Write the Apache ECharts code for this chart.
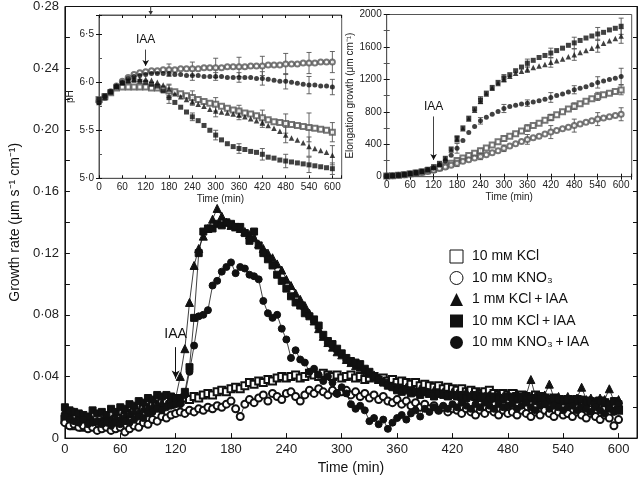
<!DOCTYPE html>
<html><head><meta charset="utf-8">
<script src="https://cdn.jsdelivr.net/npm/echarts@6/dist/echarts.min.js"></script>
<style>html,body{margin:0;padding:0;background:#fff}#c{width:640px;height:480px}</style>
</head><body><div id="c"></div>
<script>
const FONT = "'Liberation Sans', Arial, Helvetica, sans-serif";
const names = ['10 mᴍ KCl', '10 mᴍ KNO₃', '1 mᴍ KCl\u2009+\u2009IAA', '10 mᴍ KCl\u2009+\u2009IAA', '10 mᴍ KNO₃\u2009+\u2009IAA'];

// ---- main chart: growth rate, one value every 5 min from 0 to 600 ----
const mainStep = 5;
const rateKCl = [0.012,0.009,0.008,0.010,0.007,0.008,0.009,0.008,0.010,0.011,0.009,0.012,0.013,
 0.014,0.016,0.018,0.017,0.020,0.019,0.022,0.021,0.023,0.024,0.022,0.025,
 0.024,0.026,0.025,0.027,0.026,0.028,0.029,0.028,0.030,0.031,0.030,0.032,
 0.033,0.032,0.034,0.036,0.035,0.037,0.036,0.038,0.037,0.039,0.040,0.039,
 0.040,0.041,0.039,0.040,0.042,0.041,0.040,0.042,0.041,0.040,0.041,0.039,
 0.040,0.041,0.039,0.040,0.038,0.039,0.040,0.038,0.039,0.037,0.038,0.036,
 0.037,0.036,0.035,0.036,0.034,0.035,0.034,0.033,0.034,0.032,0.033,0.032,
 0.031,0.032,0.030,0.031,0.030,0.029,0.030,0.031,0.029,0.028,0.029,0.028,
 0.029,0.027,0.028,0.027,0.026,0.028,0.027,0.026,0.025,0.026,0.025,0.024,
 0.025,0.024,0.025,0.023,0.024,0.023,0.022,0.024,0.023,0.021,0.022,0.018];
const rateKNO3 = [0.010,0.008,0.009,0.007,0.008,0.006,0.007,0.005,0.006,0.007,0.005,0.006,0.007,
 0.004,0.006,0.008,0.007,0.010,0.009,0.012,0.011,0.014,0.013,0.015,0.016,
 0.017,0.016,0.018,0.017,0.019,0.018,0.020,0.019,0.021,0.020,0.022,0.024,
 0.019,0.014,0.022,0.025,0.023,0.026,0.028,0.024,0.029,0.027,0.025,0.029,
 0.030,0.027,0.024,0.028,0.031,0.029,0.032,0.030,0.028,0.031,0.029,0.030,
 0.031,0.028,0.030,0.027,0.029,0.026,0.028,0.025,0.027,0.024,0.023,0.025,
 0.022,0.024,0.021,0.023,0.020,0.022,0.019,0.021,0.018,0.020,0.017,0.019,
 0.018,0.016,0.019,0.017,0.015,0.018,0.016,0.019,0.017,0.015,0.018,0.016,
 0.017,0.015,0.018,0.016,0.014,0.017,0.015,0.018,0.016,0.014,0.017,0.015,
 0.016,0.014,0.017,0.015,0.013,0.016,0.014,0.012,0.015,0.013,0.008,0.012];
const rateKCl1IAA = [0.018,0.016,0.017,0.015,0.014,0.013,0.012,0.011,0.012,0.013,0.012,0.014,0.013,
 0.015,0.016,0.018,0.017,0.019,0.020,0.021,0.022,0.023,0.022,0.024,0.026,
 0.040,0.058,0.088,0.112,0.123,0.131,0.136,0.142,0.149,0.144,0.140,0.138,
 0.137,0.136,0.134,0.132,0.130,0.126,0.123,0.120,0.117,0.113,0.109,0.103,
 0.099,0.094,0.090,0.086,0.081,0.076,0.071,0.066,0.062,0.059,0.056,0.054,
 0.051,0.049,0.047,0.046,0.044,0.042,0.041,0.039,0.037,0.036,0.034,0.033,
 0.032,0.033,0.031,0.030,0.032,0.030,0.029,0.031,0.029,0.030,0.028,0.030,
 0.029,0.027,0.030,0.028,0.027,0.029,0.027,0.028,0.026,0.029,0.027,0.028,
 0.027,0.029,0.026,0.028,0.038,0.027,0.026,0.028,0.035,0.026,0.027,0.025,
 0.027,0.025,0.026,0.033,0.025,0.026,0.024,0.026,0.025,0.032,0.024,0.025];
const rateKCl10IAA = [0.020,0.018,0.017,0.016,0.015,0.014,0.018,0.016,0.017,0.015,0.019,0.017,0.020,
 0.019,0.022,0.021,0.024,0.023,0.026,0.025,0.028,0.027,0.028,0.027,0.026,
 0.026,0.030,0.046,0.078,0.120,0.134,0.136,0.136,0.139,0.138,0.140,0.139,
 0.137,0.137,0.133,0.128,0.134,0.125,0.120,0.116,0.112,0.106,0.102,0.097,
 0.092,0.088,0.086,0.081,0.079,0.077,0.073,0.067,0.063,0.061,0.058,0.055,
 0.052,0.050,0.049,0.048,0.045,0.043,0.040,0.038,0.036,0.034,0.033,0.031,
 0.030,0.031,0.029,0.030,0.028,0.030,0.029,0.027,0.029,0.028,0.027,0.028,
 0.027,0.028,0.026,0.027,0.028,0.026,0.027,0.025,0.027,0.026,0.025,0.027,
 0.026,0.025,0.027,0.025,0.026,0.024,0.026,0.025,0.024,0.026,0.025,0.024,
 0.025,0.023,0.024,0.025,0.023,0.024,0.022,0.024,0.023,0.022,0.024,0.022];
const rateKNO3IAA = [0.014,0.012,0.011,0.010,0.012,0.009,0.010,0.011,0.009,0.010,0.008,0.010,0.009,
 0.011,0.010,0.012,0.014,0.013,0.016,0.017,0.019,0.018,0.020,0.021,0.022,
 0.022,0.028,0.043,0.060,0.079,0.080,0.083,0.099,0.102,0.108,0.111,0.114,
 0.107,0.111,0.110,0.106,0.105,0.103,0.089,0.081,0.078,0.080,0.071,0.064,
 0.052,0.057,0.051,0.049,0.043,0.045,0.041,0.037,0.040,0.036,0.029,0.033,
 0.029,0.022,0.019,0.021,0.018,0.011,0.013,0.009,0.012,0.006,0.010,0.013,
 0.015,0.012,0.016,0.018,0.014,0.019,0.017,0.020,0.018,0.021,0.019,0.022,
 0.020,0.023,0.021,0.019,0.022,0.020,0.023,0.021,0.019,0.022,0.020,0.021,
 0.022,0.019,0.021,0.023,0.020,0.018,0.021,0.022,0.019,0.021,0.020,0.018,
 0.020,0.021,0.018,0.020,0.019,0.017,0.020,0.018,0.016,0.019,0.017,0.018];

// ---- inset 1: pH, one value every 15 min ----
const insetStep = 15;
const phKCl = [5.82,5.85,5.89,5.94,5.95,5.95,5.95,5.95,5.95,5.94,5.94,5.93,5.91,5.90,5.88,5.86,5.84,5.82,5.80,5.78,5.77,5.75,5.73,5.71,5.70,5.68,5.67,5.65,5.63,5.61,5.59,5.58,5.57,5.56,5.55,5.54,5.53,5.52,5.51,5.50,5.48];
const phKNO3 = [5.80,5.84,5.90,5.96,6.01,6.05,6.08,6.10,6.11,6.12,6.12,6.13,6.13,6.13,6.14,6.14,6.14,6.14,6.15,6.15,6.15,6.15,6.16,6.16,6.16,6.16,6.17,6.17,6.17,6.18,6.18,6.18,6.19,6.19,6.19,6.20,6.20,6.20,6.21,6.21,6.21];
const phKCl1IAA = [5.79,5.84,5.90,5.96,6.00,6.02,6.03,6.03,6.03,6.02,6.00,5.97,5.93,5.88,5.85,5.82,5.80,5.77,5.75,5.72,5.70,5.69,5.68,5.67,5.66,5.64,5.62,5.60,5.58,5.55,5.52,5.49,5.45,5.42,5.40,5.37,5.33,5.31,5.29,5.27,5.24];
const phKCl10IAA = [5.82,5.86,5.90,5.95,5.99,6.01,6.02,6.01,6.00,5.98,5.96,5.91,5.84,5.79,5.74,5.69,5.64,5.60,5.55,5.50,5.45,5.40,5.36,5.33,5.31,5.30,5.28,5.27,5.25,5.22,5.21,5.19,5.18,5.17,5.16,5.15,5.14,5.13,5.12,5.11,5.10];
const phKNO3IAA = [5.79,5.85,5.90,5.96,6.00,6.04,6.06,6.07,6.08,6.09,6.09,6.09,6.09,6.08,6.08,6.07,6.07,6.07,6.06,6.06,6.06,6.06,6.05,6.05,6.05,6.05,6.05,6.04,6.04,6.03,6.02,6.01,6.01,6.00,5.99,5.98,5.97,5.97,5.96,5.96,5.95];
const errTimes = [180,240,300,360,420,480,540,600];
const phErrKCl = [0.07,0.07,0.07,0.06,0.08,0.10,0.15,0.10];
const phErrKNO3 = [0.06,0.07,0.10,0.10,0.10,0.11,0.11,0.11];
const phErrKCl1IAA = [0.04,0.04,0.06,0.05,0.05,0.08,0.10,0.10];
const phErrKCl10IAA = [0.06,0.04,0.05,0.05,0.06,0.07,0.08,0.06];
const phErrKNO3IAA = [0.03,0.05,0.04,0.05,0.07,0.08,0.09,0.08];

// ---- inset 2: elongation growth, one value every 15 min ----
const elKCl = [8,12,18,25,35,45,58,72,90,110,135,165,200,230,260,290,320,355,390,430,470,500,530,565,600,630,660,695,730,765,800,835,870,900,930,960,990,1010,1030,1050,1070];
const elKNO3 = [8,12,17,24,32,42,52,65,80,100,120,140,165,190,210,230,250,270,295,320,350,380,405,435,460,480,500,525,550,570,590,610,630,650,670,690,710,725,740,755,770];
const elKCl1IAA = [10,14,20,28,38,50,65,85,115,155,220,330,460,590,710,820,930,1020,1090,1150,1200,1240,1275,1300,1325,1345,1365,1385,1410,1430,1450,1480,1505,1530,1555,1585,1615,1645,1675,1705,1735];
const elKCl10IAA = [10,15,21,30,40,55,70,92,124,165,227,342,474,602,722,837,948,1031,1101,1163,1220,1258,1307,1352,1400,1435,1470,1495,1525,1555,1585,1620,1650,1680,1710,1735,1760,1780,1810,1830,1855];
const elKNO3IAA = [9,13,19,26,35,46,60,80,105,145,195,265,350,445,544,618,689,734,771,804,841,866,880,895,907,920,935,955,977,1000,1020,1045,1072,1090,1110,1135,1163,1180,1198,1215,1237];
const elErrKCl = [20,30,30,40,40,40,50,60];
const elErrKNO3 = [40,40,40,60,80,80,80,80];
const elErrKCl1IAA = [30,30,30,40,60,70,80,90];
const elErrKCl10IAA = [30,40,40,50,60,70,80,100];
const elErrKNO3IAA = [60,40,50,40,60,50,70,100];

// ---------- helpers ----------
const pairs = (arr, step) => arr.map((v, i) => [i * step, v]);
const errData = (arr, errs) => errTimes.map((t, k) => { const m = arr[t / insetStep]; return [t, m - errs[k], m + errs[k]]; });
const dot = (s) => s.replace('.', '·');
function errRender(params, api) {
  const x = api.value(0), lo = api.value(1), hi = api.value(2);
  const a = api.coord([x, lo]), b = api.coord([x, hi]);
  const w = 2.5, st = { stroke: '#555', lineWidth: 0.9 };
  return { type: 'group', children: [
    { type: 'line', shape: { x1: a[0], y1: a[1], x2: b[0], y2: b[1] }, style: st },
    { type: 'line', shape: { x1: a[0] - w, y1: a[1], x2: a[0] + w, y2: a[1] }, style: st },
    { type: 'line', shape: { x1: b[0] - w, y1: b[1], x2: b[0] + w, y2: b[1] }, style: st }
  ]};
}
const BLK = '#111';
const symbols = ['emptyRect', 'emptyCircle', 'triangle', 'rect', 'circle'];
const mainSizes = [7, 7, 8, 7, 7];
const mainData = [rateKCl, rateKNO3, rateKCl1IAA, rateKCl10IAA, rateKNO3IAA];
const phData = [phKCl, phKNO3, phKCl1IAA, phKCl10IAA, phKNO3IAA];
const phErr = [phErrKCl, phErrKNO3, phErrKCl1IAA, phErrKCl10IAA, phErrKNO3IAA];
const elData = [elKCl, elKNO3, elKCl1IAA, elKCl10IAA, elKNO3IAA];
const elErr = [elErrKCl, elErrKNO3, elErrKCl1IAA, elErrKCl10IAA, elErrKNO3IAA];

const tickIn = (len) => ({ show: true, inside: true, length: len, lineStyle: { color: BLK, width: 1 } });
const lineAx = (c) => ({ show: true, lineStyle: { color: c, width: 1 } });
const lbl = (size, fmt, margin) => ({ show: true, fontSize: size, fontFamily: FONT, color: '#222', formatter: fmt, margin: margin });
const xfmt = (v) => (Math.abs(v % 60) < 1e-6 && v <= 600) ? String(v) : '';

const series = [];
mainData.forEach((arr, i) => {
  const s = {
    name: names[i], type: 'line', xAxisIndex: 0, yAxisIndex: 0,
    data: pairs(arr, mainStep), symbol: symbols[i], symbolSize: mainSizes[i], showAllSymbol: true,
    itemStyle: { color: BLK, borderColor: BLK, borderWidth: 1 },
    lineStyle: { color: BLK, width: 0.8 }, z: 2 + i
  };
  if (i === 0) s.markLine = {
    silent: true, symbol: ['none', 'arrow'], symbolSize: [6, 8],
    lineStyle: { color: BLK, width: 1, type: 'solid' },
    label: { show: true, position: 'start', formatter: 'IAA', fontSize: 14, fontFamily: FONT, color: BLK, distance: 6 },
    data: [[{ coord: [120, 0.059] }, { coord: [120, 0.0386] }]]
  };
  series.push(s);
});
phData.forEach((arr, i) => {
  series.push({ name: 'pH ' + i, type: 'custom', xAxisIndex: 1, yAxisIndex: 2, renderItem: errRender,
    encode: { x: 0, y: [1, 2] }, data: errData(arr, phErr[i]), z: 1 });
  const s = { name: 'pHs ' + i, type: 'scatter', xAxisIndex: 1, yAxisIndex: 2, data: pairs(arr, insetStep),
    symbol: symbols[i], symbolSize: i === 2 ? 5.5 : 5, itemStyle: { color: i < 2 ? '#555' : BLK, borderWidth: 0.8 }, z: 3 };
  if (i === 0) s.markLine = {
    silent: true, symbol: ['none', 'arrow'], symbolSize: [5, 6],
    lineStyle: { color: BLK, width: 0.8, type: 'solid' },
    label: { show: true, position: 'start', formatter: 'IAA', fontSize: 12, fontFamily: FONT, color: BLK, distance: 4 },
    data: [[{ coord: [120, 6.34] }, { coord: [120, 6.17] }]]
  };
  series.push(s);
});
elData.forEach((arr, i) => {
  series.push({ name: 'el ' + i, type: 'custom', xAxisIndex: 3, yAxisIndex: 4, renderItem: errRender,
    encode: { x: 0, y: [1, 2] }, data: errData(arr, elErr[i]), z: 1 });
  const s = { name: 'els ' + i, type: 'scatter', xAxisIndex: 3, yAxisIndex: 4, data: pairs(arr, insetStep),
    symbol: symbols[i], symbolSize: i === 2 ? 5.5 : 5, itemStyle: { color: i < 2 ? '#555' : BLK, borderWidth: 0.8 }, z: 3 };
  if (i === 0) s.markLine = {
    silent: true, symbol: ['none', 'arrow'], symbolSize: [5, 6],
    lineStyle: { color: BLK, width: 0.8, type: 'solid' },
    label: { show: true, position: 'start', formatter: 'IAA', fontSize: 12, fontFamily: FONT, color: BLK, distance: 4 },
    data: [[{ coord: [120, 743] }, { coord: [120, 207] }]]
  };
  series.push(s);
});

const legendData = names.map((n, i) => ({
  name: n, icon: ['rect', 'circle', 'triangle', 'rect', 'circle'][i],
  itemStyle: i < 2 ? { color: '#fff', borderColor: BLK, borderWidth: 1 } : { color: BLK, borderWidth: 0 }
}));

const option = {
  animation: false,
  backgroundColor: '#fff',
  textStyle: { fontFamily: FONT },
  grid: [
    { left: 62, top: 6, width: 577, height: 435.7, show: true, borderColor: BLK, borderWidth: 1 },
    { left: 99, top: 15, width: 242.7, height: 163.3, show: true, borderColor: '#555', borderWidth: 1 },
    { left: 386.7, top: 14.5, width: 245, height: 162.2, show: true, borderColor: '#555', borderWidth: 1 }
  ],
  legend: {
    orient: 'vertical', left: 449.5, top: 249.5, padding: 0, itemWidth: 13, itemHeight: 13, itemGap: 7.5, selectedMode: false,
    textStyle: { fontSize: 14, fontFamily: FONT, color: BLK, lineHeight: 14, padding: [0, 0, 0, 4] },
    data: legendData
  },
  xAxis: [
    { type: 'value', gridIndex: 0, min: 0, max: 620, interval: 60, axisLine: lineAx(BLK), axisTick: tickIn(5),
      splitLine: { show: false }, axisLabel: lbl(13, xfmt, 5),
      name: 'Time (min)', nameLocation: 'middle', nameGap: 20, nameTextStyle: { fontSize: 14, fontFamily: FONT, color: BLK } },
    { type: 'value', gridIndex: 1, min: 0, max: 624, interval: 60, axisLine: lineAx('#555'), axisTick: tickIn(3),
      splitLine: { show: false }, axisLabel: lbl(10, xfmt, 4),
      name: 'Time (min)', nameLocation: 'middle', nameGap: 16, nameTextStyle: { fontSize: 10, fontFamily: FONT, color: '#222' } },
    { type: 'value', gridIndex: 1, position: 'top', min: 0, max: 624, interval: 60, axisLine: lineAx('#555'), axisTick: tickIn(3),
      splitLine: { show: false }, axisLabel: { show: false } },
    { type: 'value', gridIndex: 2, min: 0, max: 627, interval: 60, axisLine: lineAx('#555'), axisTick: tickIn(3),
      splitLine: { show: false }, axisLabel: lbl(10, xfmt, 4),
      name: 'Time (min)', nameLocation: 'middle', nameGap: 16, nameTextStyle: { fontSize: 10, fontFamily: FONT, color: '#222' } },
    { type: 'value', gridIndex: 2, position: 'top', min: 0, max: 627, interval: 60, axisLine: lineAx('#555'), axisTick: tickIn(3),
      splitLine: { show: false }, axisLabel: { show: false } }
  ],
  yAxis: [
    { type: 'value', gridIndex: 0, min: 0, max: 0.28, interval: 0.04, axisLine: lineAx(BLK), axisTick: tickIn(5),
      minorTick: { show: true, splitNumber: 2, length: 5, lineStyle: { color: BLK } }, splitLine: { show: false }, minorSplitLine: { show: false },
      axisLabel: lbl(13, (v) => v === 0 ? '0' : dot(v.toFixed(2)), 6),
      name: 'Growth rate (μm s⁻¹ cm⁻¹)', nameLocation: 'middle', nameGap: 38, nameTextStyle: { fontSize: 14, fontFamily: FONT, color: BLK } },
    { type: 'value', gridIndex: 0, position: 'right', min: 0, max: 0.28, interval: 0.02, axisLine: lineAx(BLK), axisTick: tickIn(4),
      splitLine: { show: false }, axisLabel: { show: false } },
    { type: 'value', gridIndex: 1, min: 5, max: 6.7, interval: 0.5, axisLine: lineAx('#555'), axisTick: tickIn(3),
      minorTick: { show: true, splitNumber: 2, length: 3, lineStyle: { color: '#555' } }, splitLine: { show: false }, minorSplitLine: { show: false },
      axisLabel: lbl(10, (v) => (Math.abs(v * 2 - Math.round(v * 2)) < 1e-6 && v < 6.6) ? dot(v.toFixed(1)) : '', 5),
      name: 'pH', nameLocation: 'middle', nameGap: 24, nameTextStyle: { fontSize: 10, fontFamily: FONT, color: '#222' } },
    { type: 'value', gridIndex: 1, position: 'right', min: 5, max: 6.7, interval: 0.5, axisLine: lineAx('#555'), axisTick: tickIn(3),
      splitLine: { show: false }, axisLabel: { show: false } },
    { type: 'value', gridIndex: 2, min: 0, max: 2000, interval: 400, axisLine: lineAx('#555'), axisTick: tickIn(3),
      minorTick: { show: true, splitNumber: 2, length: 3, lineStyle: { color: '#555' } }, splitLine: { show: false }, minorSplitLine: { show: false },
      axisLabel: lbl(10, (v) => String(v), 5),
      name: 'Elongation growth (μm cm⁻¹)', nameLocation: 'middle', nameGap: 28, nameTextStyle: { fontSize: 10, fontFamily: FONT, color: '#222' } },
    { type: 'value', gridIndex: 2, position: 'right', min: 0, max: 2000, interval: 400, axisLine: lineAx('#555'), axisTick: tickIn(3),
      minorTick: { show: true, splitNumber: 2, length: 3, lineStyle: { color: '#555' } },
      splitLine: { show: false }, axisLabel: { show: false } }
  ],
  graphic: [
    { type: 'line', shape: { x1: 150.7, y1: 6, x2: 150.7, y2: 13 }, style: { stroke: '#333', lineWidth: 1 } },
    { type: 'polygon', shape: { points: [[148.5, 11], [152.9, 11], [150.7, 15]] }, style: { fill: '#333' } }
  ],
  series: series
};
const chart = echarts.init(document.getElementById('c'), null, { renderer: 'canvas' });
chart.setOption(option);
</script></body></html>
